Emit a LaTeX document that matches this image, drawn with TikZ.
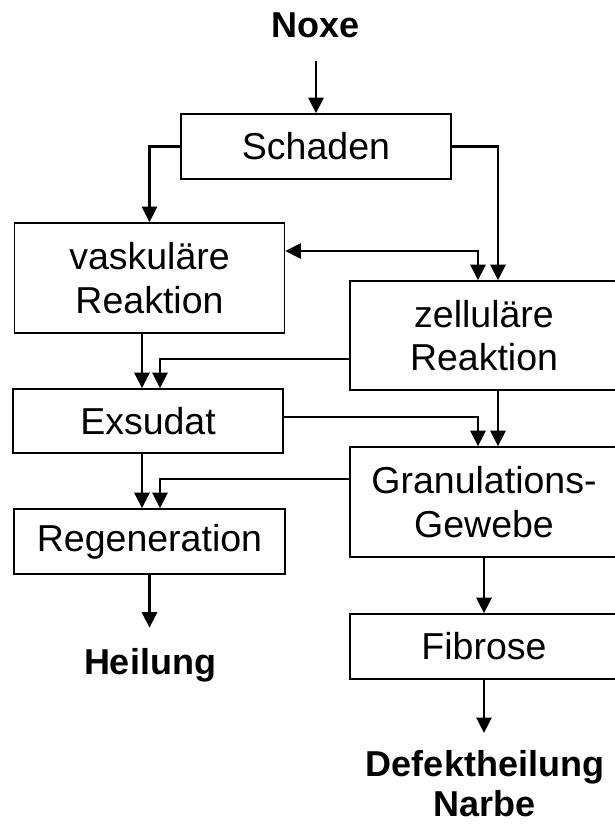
\documentclass[tikz,border=0pt]{standalone}
\usepackage{fontspec}
\setmainfont{Liberation Sans}
\usetikzlibrary{arrows.meta}
\begin{document}
\begin{tikzpicture}[x=1pt,y=-1pt,
  box/.style={draw, line width=1.6pt, inner sep=0pt, align=center,
    font=\fontsize{37.5}{43.5}\selectfont},
  lbl/.style={inner sep=0pt, align=center,
    font=\fontsize{36}{40}\selectfont\bfseries},
  tip/.tip={Triangle[length=15.5pt,width=15pt]},
  arr/.style={line width=2.8pt, -tip},
  arrboth/.style={line width=2.8pt, tip-tip},
  ]
\useasboundingbox (0,0) rectangle (615,825);

% process boxes
\node[box, minimum width=270pt, minimum height=65pt]  (schaden) at (316,146.5) {Schaden};
\node[box, minimum width=270pt, minimum height=110pt] (vask)    at (149.5,278) {vaskuläre\\Reaktion};
\node[box, minimum width=268pt, minimum height=109pt] (zell)    at (484,335.5) {zelluläre\\Reaktion};
\node[box, minimum width=270pt, minimum height=64pt]  (exs)     at (148,421)   {Exsudat};
\node[box, minimum width=268pt, minimum height=110pt] (gran)    at (484,502)   {Granulations-\\Gewebe};
\node[box, minimum width=271pt, minimum height=65pt]  (regen)   at (149.5,541.5) {Regeneration};
\node[box, minimum width=268pt, minimum height=65pt]  (fib)     at (484,646.5) {Fibrose};

% start and end labels
\node[lbl, anchor=base]  (noxe)  at (316,37)  {Noxe};
\node[lbl, anchor=base]  (heil)  at (150,674) {Heilung};
\node[lbl, anchor=north] (narbe) at (485,750) {Defektheilung\\Narbe};

% connectors
\draw[arr, shorten <=23pt] (noxe.south) -- (schaden.north);
\draw[arr] (schaden.west) -| (vask.north);
\draw[arr] (schaden.east) -| ([xshift=14pt]zell.north);
\draw[arrboth] ([yshift=27pt]vask.east) -| ([xshift=-6pt]zell.north);
\draw[arr] ([xshift=-7.5pt]vask.south) -- ([xshift=-7.5pt]vask.south |- exs.north);
\draw[arr] ([yshift=-23.5pt]zell.west) -| ([xshift=12pt]exs.north);
\draw[arr] ([yshift=4pt]exs.east) -| ([xshift=-6pt]gran.north);
\draw[arr] ([xshift=14pt]zell.south) -- ([xshift=14pt]gran.north);
\draw[arr] ([xshift=-6pt]exs.south) -- ([xshift=-6pt]exs.south |- regen.north);
\draw[arr] ([yshift=23pt]gran.west) -| ([xshift=10.5pt]regen.north);
\draw[arr, shorten >=20pt] (regen.south) -- (regen.south |- heil.north);
\draw[arr] (gran.south) -- (fib.north);
\draw[arr, shorten >=17pt] (fib.south) -- (fib.south |- narbe.north);
\end{tikzpicture}
\end{document}
